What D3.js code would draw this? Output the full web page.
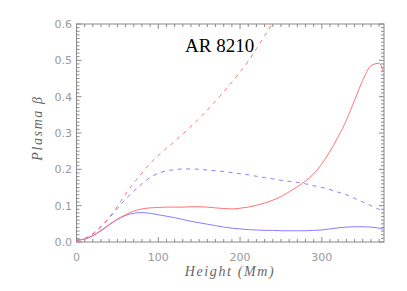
<!DOCTYPE html>
<html><head><meta charset="utf-8">
<script src="https://cdn.jsdelivr.net/npm/d3@7"></script>
<style>body{margin:0;background:#fff}svg{display:block}</style>
</head><body>
<svg id="c" width="407" height="291"></svg>
<script>
const heights = [0,10,20,30,40,50,60,70,80,90,100,110,120,130,140,150,160,170,180,190,200,210,220,230,240,250,260,270,280,290,300,310,320,330,340,350,360,370,375];
const redDashed = [0.005,0.010,0.023,0.043,0.068,0.098,0.132,0.162,0.190,0.216,0.238,0.258,0.277,0.297,0.318,0.340,0.363,0.388,0.413,0.440,0.468,0.497,0.532,0.567,0.603,0.640,0.68,0.72,null,null,null,null,null,null,null,null,null,null,null];
const blueDashed = [0.005,0.009,0.022,0.042,0.066,0.092,0.118,0.140,0.160,0.178,0.189,0.196,0.199,0.201,0.201,0.200,0.198,0.196,0.194,0.191,0.188,0.185,0.181,0.177,0.174,0.170,0.167,0.164,0.160,0.155,0.150,0.144,0.137,0.130,0.120,0.110,0.100,0.090,0.086];
const redSolid = [0.005,0.008,0.018,0.032,0.048,0.063,0.075,0.085,0.091,0.094,0.095,0.096,0.096,0.096,0.097,0.097,0.096,0.094,0.092,0.091,0.093,0.096,0.101,0.107,0.115,0.125,0.138,0.152,0.168,0.188,0.215,0.250,0.290,0.335,0.390,0.445,0.485,0.492,0.468];
const blueSolid = [0.005,0.008,0.017,0.031,0.047,0.062,0.073,0.079,0.081,0.079,0.075,0.071,0.067,0.062,0.057,0.053,0.049,0.045,0.041,0.038,0.036,0.034,0.033,0.032,0.032,0.031,0.031,0.031,0.031,0.032,0.033,0.036,0.039,0.041,0.042,0.042,0.041,0.038,0.035];
const xTicks = [0,100,200,300];
const yTicks = [0.0,0.1,0.2,0.3,0.4,0.5,0.6];
const title = "AR 8210";
const xTitle = "Height (Mm)";
const yTitle = "Plasma β";

const L=76.5, R=384, T=24, B=242;
const svg = d3.select("#c");
const x = d3.scaleLinear().domain([0,376]).range([L,R]);
const y = d3.scaleLinear().domain([0,0.6]).range([B,T]);
const axisCol = "#8a8a8a", textCol = "#9a9a9a";

svg.append("clipPath").attr("id","clip").append("rect")
  .attr("x",L).attr("y",T).attr("width",R-L).attr("height",B-T);

svg.append("rect").attr("x",L).attr("y",T).attr("width",R-L).attr("height",B-T)
  .attr("fill","none").attr("stroke",axisCol).attr("stroke-width",1);

const g = svg.append("g").attr("stroke",axisCol).attr("stroke-width",1);
const xMinor = d3.range(0,377,10);
xMinor.forEach(v=>{
  const len = (v%100===0)?5:3;
  const px = x(v);
  g.append("line").attr("x1",px).attr("x2",px).attr("y1",B).attr("y2",B-len);
  g.append("line").attr("x1",px).attr("x2",px).attr("y1",T).attr("y2",T+len);
});
const yMinor = d3.range(0,61,1).map(d=>d/100);
yMinor.forEach((v,i)=>{
  const len = (i%10===0)?5:3;
  const py = y(v);
  g.append("line").attr("x1",L).attr("x2",L+len).attr("y1",py).attr("y2",py);
  g.append("line").attr("x1",R).attr("x2",R-len).attr("y1",py).attr("y2",py);
});

const tf = "'DejaVu Sans', sans-serif";
xTicks.forEach(v=>{
  svg.append("text").attr("x",x(v)).attr("y",261).attr("text-anchor","middle")
    .attr("font-family",tf).attr("font-size",11).attr("fill",textCol).text(String(v));
});
yTicks.forEach(v=>{
  svg.append("text").attr("x",72).attr("y",y(v)+4).attr("text-anchor","end")
    .attr("font-family",tf).attr("font-size",11).attr("fill",textCol).text(v.toFixed(1));
});

svg.append("text").attr("x",230).attr("y",276).attr("text-anchor","middle")
  .attr("font-family","'Liberation Serif', serif").attr("font-style","italic")
  .attr("font-size",14).attr("letter-spacing",1.6).attr("fill","#666").text(xTitle);
svg.append("text").attr("transform","translate(42,128) rotate(-90)").attr("text-anchor","middle")
  .attr("font-family","'Liberation Serif', serif").attr("font-style","italic")
  .attr("font-size",14).attr("letter-spacing",1.6).attr("fill","#666").text(yTitle);
svg.append("text").attr("x",185).attr("y",52)
  .attr("font-family","'Liberation Serif', 'Times New Roman', serif")
  .attr("font-size",19).attr("fill","#000").text(title);

const plot = svg.append("g").attr("clip-path","url(#clip)");
function draw(vals,col,dash){
  const data = heights.map((h,i)=>[h,vals[i]]).filter(d=>d[1]!=null);
  const line = d3.line().x(d=>x(d[0])).y(d=>y(d[1])).curve(d3.curveMonotoneX);
  plot.append("path").datum(data).attr("d",line).attr("fill","none")
    .attr("stroke",col).attr("stroke-width",1)
    .attr("stroke-dasharray",dash?"4,4.5":null);
}
draw(blueSolid,"#8a7cff",false);
draw(blueDashed,"#8a7cff",true);
draw(redSolid,"#ff7474",false);
draw(redDashed,"#ff7474",true);
</script>
</body></html>
